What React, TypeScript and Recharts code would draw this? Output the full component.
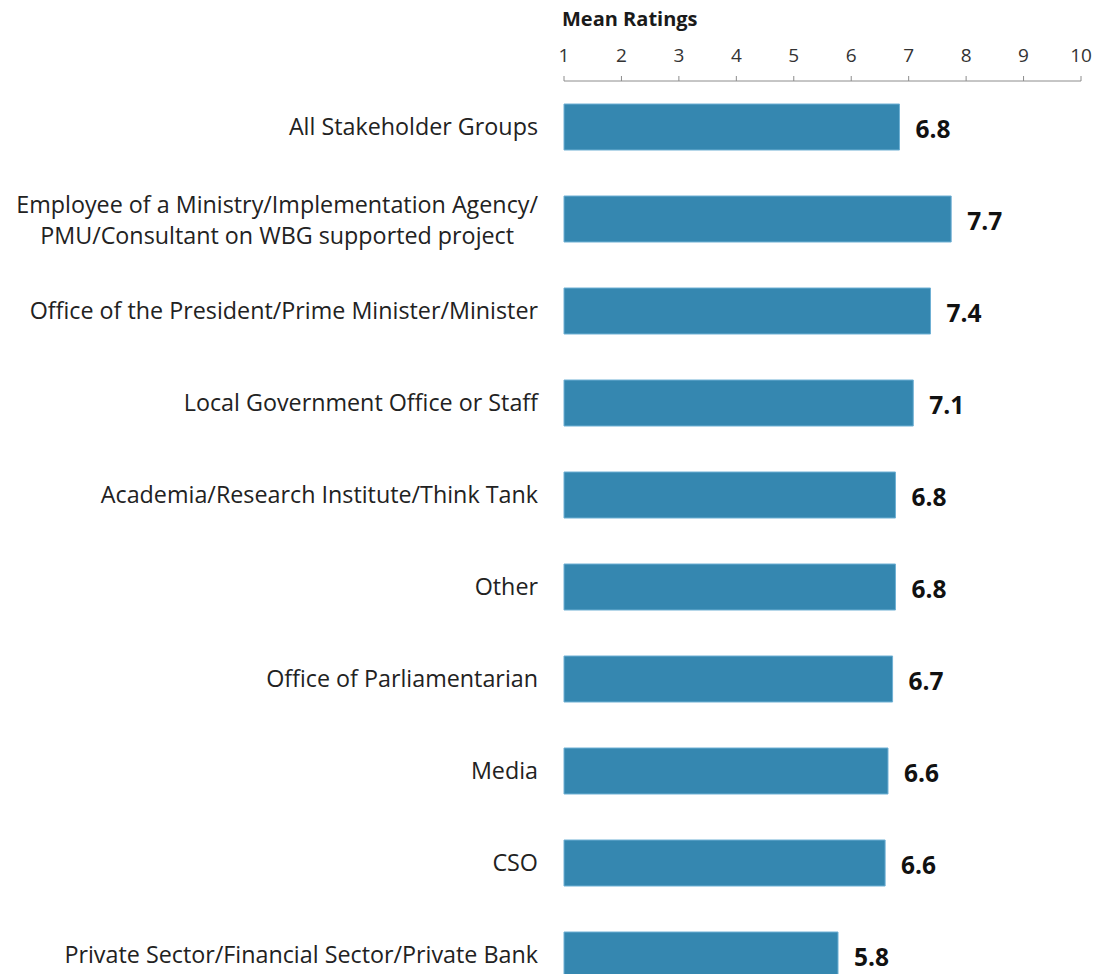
import React from 'react';
import { BarChart, Bar, XAxis, YAxis, LabelList } from 'recharts';

const groups = [
  'All Stakeholder Groups',
  'Employee of a Ministry/Implementation Agency/\nPMU/Consultant on WBG supported project',
  'Office of the President/Prime Minister/Minister',
  'Local Government Office or Staff',
  'Academia/Research Institute/Think Tank',
  'Other',
  'Office of Parliamentarian',
  'Media',
  'CSO',
  'Private Sector/Financial Sector/Private Bank',
];

const meanRatings = [6.84, 7.74, 7.38, 7.08, 6.77, 6.77, 6.72, 6.64, 6.59, 5.77];

const ratingTicks = [1, 2, 3, 4, 5, 6, 7, 8, 9, 10];

const data = groups.map((name, i) => ({ name, mean: meanRatings[i] }));

const FONT = '"Open Sans", Lato, sans-serif';
const LABEL_SIZE = 23.3;

let ctx: CanvasRenderingContext2D | null = null;
function textWidth(s: string) {
  if (!ctx) ctx = document.createElement('canvas').getContext('2d');
  if (!ctx) return s.length * 10;
  ctx.font = `${LABEL_SIZE}px ${FONT}`;
  return ctx.measureText(s).width;
}

// right-aligned block; wrapped lines centred on each other
function GroupTick(props: any) {
  const { x, y, payload } = props;
  const lines = String(payload.value).split('\n');
  const right = x - 18;
  if (lines.length === 1) {
    return (
      <text x={right} y={y} dy="0.35em" textAnchor="end" fontSize={LABEL_SIZE} fontFamily={FONT} fill="#222">
        {lines[0]}
      </text>
    );
  }
  const w = Math.max(...lines.map(textWidth));
  const cx = right - w / 2;
  const lh = 31;
  return (
    <text textAnchor="middle" fontSize={LABEL_SIZE} fontFamily={FONT} fill="#222">
      {lines.map((l, i) => (
        <tspan key={i} x={cx} y={y + 1 + (i - (lines.length - 1) / 2) * lh} dy="0.35em">
          {l}
        </tspan>
      ))}
    </text>
  );
}

export default function App() {
  return (
    <div style={{ position: 'absolute', left: 0, top: 0, width: 1096, height: 1005, background: '#fff' }}>
      <div
        style={{
          position: 'absolute',
          left: 562,
          top: 6,
          fontFamily: FONT,
          fontWeight: 'bold',
          fontSize: 20,
          color: '#1a1a1a',
          lineHeight: '26px',
        }}
      >
        Mean Ratings
      </div>
      <BarChart
        width={1096}
        height={1005}
        data={data}
        layout="vertical"
        margin={{ top: 0, right: 15, bottom: 4, left: 0 }}
        barSize={46}
      >
        <XAxis
          type="number"
          orientation="top"
          domain={[1, 10]}
          ticks={ratingTicks}
          height={81}
          axisLine={{ stroke: '#8c8c8c' }}
          tickLine={{ stroke: '#8c8c8c' }}
          tickSize={5}
          tickMargin={14}
          tick={{ fill: '#333', fontSize: 19, fontFamily: FONT }}
        />
        <YAxis type="category" dataKey="name" width={564} axisLine={false} tickLine={false} tick={<GroupTick />} />
        <Bar dataKey="mean" fill="#3587b0" stroke="#6fb0d4" strokeWidth={1} isAnimationActive={false}>
          <LabelList
            dataKey="mean"
            position="right"
            offset={16}
            dy={2}
            formatter={(v: any) => Number(v).toFixed(1)}
            style={{ fill: '#111', fontSize: 24.5, fontWeight: 'bold', fontFamily: FONT }}
          />
        </Bar>
      </BarChart>
    </div>
  );
}
